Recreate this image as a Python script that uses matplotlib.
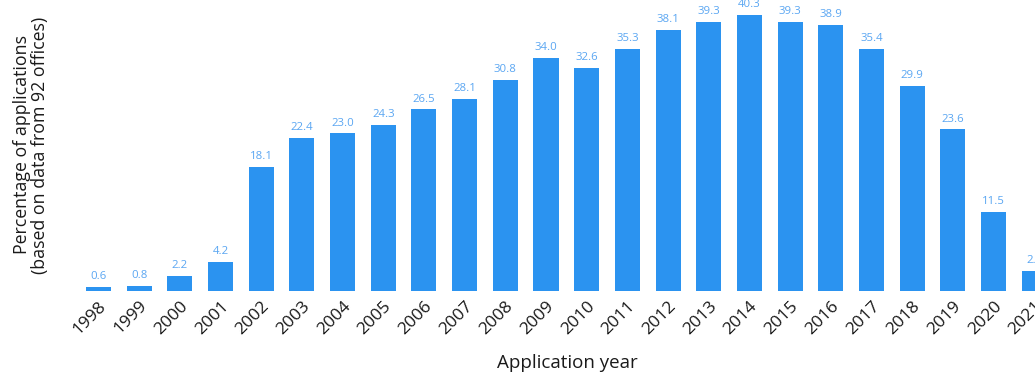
import matplotlib
matplotlib.use("Agg")
import matplotlib.pyplot as plt

years = [str(y) for y in range(1998, 2022)]
values = [0.6, 0.8, 2.2, 4.2, 18.1, 22.4, 23.0, 24.3, 26.5, 28.1, 30.8, 34.0,
          32.6, 35.3, 38.1, 39.3, 40.3, 39.3, 38.9, 35.4, 29.9, 23.6, 11.5, 2.9]

plt.rcParams['font.family'] = ['Open Sans', 'DejaVu Sans']

W, H = 1035, 373
fig = plt.figure(figsize=(W/100, H/100), dpi=100)
left_px, right_px, top_px, bottom_px = 60, 1035, 0, 291
ax = fig.add_axes([left_px/W, 1 - bottom_px/H, (right_px-left_px)/W, (bottom_px-top_px)/H])

x = list(range(len(years)))
ax.bar(x, values, width=0.615, color='#2b93f0', zorder=2)
for xi, v in zip(x, values):
    ax.text(xi, v + 0.7, f"{v:.1f}", ha='center', va='bottom', fontsize=8.2,
            color='#5aa6f2', clip_on=False)

ax.set_xlim(-0.946, 23.02)
ax.set_ylim(0, 42.48)
ax.set_xticks(x)
ax.set_xticklabels(years, rotation=45, ha='right', rotation_mode='anchor',
                   fontsize=12.5, color='#1a1a1a')
ax.tick_params(axis='x', length=0, pad=5)
ax.set_yticks([])
for s in ax.spines.values():
    s.set_visible(False)

fig.text(31/W, 1 - 145/H, "Percentage of applications\n(based on data from 92 offices)",
         rotation=90, ha='center', va='center', fontsize=12.8, color='#1a1a1a',
         linespacing=1.0)
fig.text(567/W, 1 - 363/H, "Application year", ha='center', va='center',
         fontsize=13.5, color='#1a1a1a')

fig.savefig("out.png", dpi=100)
